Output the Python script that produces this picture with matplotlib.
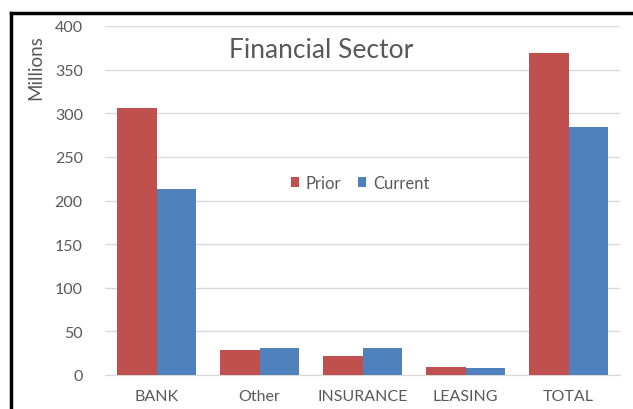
import matplotlib
matplotlib.use('Agg')
import matplotlib.pyplot as plt
import numpy as np
from matplotlib.lines import Line2D

categories = ['BANK', 'Other', 'INSURANCE', 'LEASING', 'TOTAL']
prior = [306, 28.5, 22, 9.5, 369]
current = [213, 31, 31, 7.5, 284]

PRIOR_COLOR = '#c0504d'
CURRENT_COLOR = '#4f81bd'
TEXT_COLOR = '#595959'

plt.rcParams['font.family'] = ['Lato', 'DejaVu Sans']

fig = plt.figure(figsize=(6.33, 4.10), dpi=100)
ax = fig.add_axes([105 / 633, 34 / 410, 515 / 633, 349 / 410])

x = np.arange(len(categories))
width = 0.38
ax.bar(x - width / 2, prior, width, color=PRIOR_COLOR, label='Prior', zorder=3)
ax.bar(x + width / 2, current, width, color=CURRENT_COLOR, label='Current', zorder=3)

ax.set_xlim(-0.5, len(categories) - 0.5)
ax.set_ylim(0, 400)
ax.set_yticks(range(0, 401, 50))
ax.set_xticks(x)
ax.set_xticklabels(categories)
ax.grid(True, axis='y', color='#d9d9d9', linewidth=1, zorder=0)

for side in ['top', 'right', 'left']:
    ax.spines[side].set_visible(False)
ax.spines['bottom'].set_color('#d9d9d9')
ax.tick_params(axis='both', length=0, colors=TEXT_COLOR, labelsize=11.5)
ax.tick_params(axis='x', pad=10)
ax.tick_params(axis='y', pad=16)

ax.set_ylabel('Millions', color=TEXT_COLOR, fontsize=13.5)
ax.yaxis.set_label_coords(-0.117, 0.883)

ax.text(0.42, 0.932, 'Financial Sector', transform=ax.transAxes,
        ha='center', va='center', fontsize=19, color=TEXT_COLOR)

ax.legend(loc='center', bbox_to_anchor=(0.495, 0.55), ncol=2, frameon=False,
          fontsize=12, handlelength=0.5, handleheight=0.5,
          handletextpad=0.4, columnspacing=1.0, labelcolor=TEXT_COLOR)

# outer frame lines
fig.add_artist(Line2D([10.5 / 633, 1], [1 - 13.5 / 410, 1 - 13.5 / 410],
                      color='black', linewidth=2.5, transform=fig.transFigure))
fig.add_artist(Line2D([10.5 / 633, 10.5 / 633], [0, 1 - 13.5 / 410],
                      color='black', linewidth=2.5, transform=fig.transFigure))

plt.savefig('out.png', dpi=100)
plt.close()
